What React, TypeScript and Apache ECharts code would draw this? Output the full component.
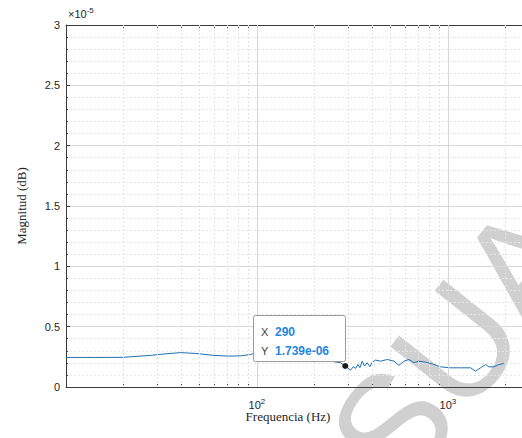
import React, { useEffect, useRef } from 'react';
import * as echarts from 'echarts';

// Frequency (Hz) and magnitude (in units of 1e-5)
const freqHz = [10, 14.3, 20, 27.8, 33.3, 39.9, 47.8, 59.3, 71.1, 82.2, 92.7, 101, 120, 150, 190, 230, 274, 290, 309, 320, 329, 338, 346, 356, 366, 378, 390, 402, 418, 444, 482, 522, 554, 588, 625, 664, 705, 764, 829, 916, 1033, 1165, 1315, 1396, 1483, 1576, 1640, 1741, 1849, 1964];
const magnitudeE5 = [0.245, 0.245, 0.246, 0.262, 0.275, 0.285, 0.278, 0.262, 0.256, 0.258, 0.27, 0.285, 0.28, 0.26, 0.24, 0.22, 0.201, 0.1739, 0.14, 0.168, 0.154, 0.187, 0.16, 0.214, 0.173, 0.201, 0.168, 0.206, 0.223, 0.214, 0.228, 0.214, 0.179, 0.214, 0.228, 0.201, 0.214, 0.206, 0.192, 0.167, 0.159, 0.159, 0.159, 0.131, 0.159, 0.186, 0.167, 0.167, 0.186, 0.195];

const xMajorValues = [100, 1000];
const xMajorExponents = ['2', '3'];
const xMinorValues = [20, 30, 40, 50, 60, 70, 80, 90, 200, 300, 400, 500, 600, 700, 800, 900, 2000, 3000];
const yTickStep = 0.5;
const yMax = 3;
const datatipPoint = [290, 0.1739];
const datatipX = '290';
const datatipY = '1.739e-06';

const AXIS = '#3c3c3c';
const SANS = '"Liberation Sans", Arial, Helvetica, sans-serif';
const SERIF = '"Liberation Serif", "DejaVu Serif", serif';

export default function App() {
  const ref = useRef<HTMLDivElement>(null);
  useEffect(() => {
    if (!ref.current) return;
    const chart = echarts.init(ref.current, null, { renderer: 'svg' });
    const lineData = freqHz.map((f, i) => [f, magnitudeE5[i]]);
    const gridMarks = [
      ...xMinorValues.map((v) => ({ xAxis: v, lineStyle: { color: '#e2e2e2', type: [2, 2], width: 1 } })),
      ...xMajorValues.map((v) => ({ xAxis: v, lineStyle: { color: '#d6d6d6', type: 'solid', width: 1 } })),
    ];
    chart.setOption({
      animation: false,
      grid: { left: 66, top: 25, width: 473, height: 362, containLabel: false, outerBoundsMode: 'none' },
      xAxis: [
        {
          type: 'log',
          logBase: 10,
          min: 10,
          max: 3000,
          position: 'bottom',
          axisLine: { show: true, lineStyle: { color: AXIS, width: 1 } },
          axisTick: { show: true, inside: true, length: 3, lineStyle: { color: AXIS }, customValues: [...xMinorValues, ...xMajorValues] },
          splitLine: { show: false },
          axisLabel: {
            margin: 10,
            color: '#262626',
            customValues: xMajorValues,
            formatter: (v: number) => {
              const i = xMajorValues.indexOf(Math.round(v));
              return i >= 0 ? `{b|10}{s|${xMajorExponents[i]}}` : '';
            },
            rich: {
              b: { fontSize: 11, fontFamily: SANS, color: '#262626' },
              s: { fontSize: 8, fontFamily: SANS, color: '#262626', padding: [0, 0, 8, 0] },
            },
          },
        },
        {
          type: 'log',
          logBase: 10,
          min: 10,
          max: 3000,
          position: 'top',
          axisLine: { show: true, lineStyle: { color: AXIS, width: 1 } },
          axisTick: { show: true, inside: true, length: 3, lineStyle: { color: AXIS }, customValues: [...xMinorValues, ...xMajorValues] },
          splitLine: { show: false },
          axisLabel: { show: false },
        },
      ],
      yAxis: {
        type: 'value',
        min: 0,
        max: yMax,
        interval: yTickStep,
        axisLine: { show: true, lineStyle: { color: AXIS, width: 1 } },
        axisTick: { show: true, inside: true, length: 4, lineStyle: { color: AXIS } },
        minorTick: { show: true, splitNumber: 5, length: 2, lineStyle: { color: AXIS } },
        splitLine: { show: true, lineStyle: { color: '#d8d8d8', width: 1 } },
        minorSplitLine: { show: true, lineStyle: { color: '#e6e6e6', type: [2, 2], width: 1 } },
        axisLabel: {
          margin: 6,
          color: '#262626',
          fontSize: 11,
          fontFamily: SANS,
          formatter: (v: number) => String(Math.round(v * 10) / 10),
        },
      },
      series: [
        {
          type: 'line',
          name: 'grid',
          data: [],
          z: 1,
          silent: true,
          markLine: { silent: true, symbol: ['none', 'none'], label: { show: false }, data: gridMarks, animation: false },
        },
        {
          type: 'line',
          name: 'magnitude',
          data: lineData,
          z: 3,
          showSymbol: false,
          symbol: 'none',
          lineStyle: { color: '#1f6fb0', width: 1 },
          markPoint: {
            symbol: 'circle',
            symbolSize: 6,
            itemStyle: { color: '#1a1a1a' },
            label: { show: false },
            data: [{ coord: datatipPoint }],
          },
        },
      ],
      graphic: [
        {
          type: 'text',
          x: 457,
          y: 345,
          rotation: 0.9,
          silent: true,
          style: { text: 'SUA', font: `150px ${SANS}`, fill: 'rgba(200,200,200,0.85)', align: 'center', verticalAlign: 'middle' },
        },
        {
          type: 'text',
          left: 68,
          top: 6,
          style: {
            text: '{a|×10}{b|-5}',
            rich: {
              a: { fontSize: 11, fontFamily: SANS, fill: '#262626' },
              b: { fontSize: 8, fontFamily: SANS, fill: '#262626', padding: [0, 0, 8, 0] },
            },
          },
        },
        {
          type: 'text',
          x: 21,
          y: 206,
          rotation: Math.PI / 2,
          style: { text: 'Magnitud (dB)', font: `13px ${SERIF}`, fill: '#262626', align: 'center', verticalAlign: 'middle' },
        },
        {
          type: 'text',
          x: 288,
          y: 416,
          style: { text: 'Frequencia (Hz)', font: `13px ${SERIF}`, fill: '#262626', align: 'center', verticalAlign: 'middle' },
        },
        {
          type: 'rect',
          z: 50,
          shape: { x: 253.5, y: 315.5, width: 92, height: 46, r: 2 },
          style: { fill: '#ffffff', stroke: '#9a9a9a', lineWidth: 1 },
        },
        {
          type: 'text',
          z: 51,
          x: 261,
          y: 332,
          style: { text: 'X', font: `11px ${SANS}`, fill: '#404040', verticalAlign: 'middle' },
        },
        {
          type: 'text',
          z: 51,
          x: 275,
          y: 332,
          style: { text: datatipX, font: `bold 12px ${SANS}`, fill: '#1f86e0', verticalAlign: 'middle' },
        },
        {
          type: 'text',
          z: 51,
          x: 261,
          y: 351,
          style: { text: 'Y', font: `11px ${SANS}`, fill: '#404040', verticalAlign: 'middle' },
        },
        {
          type: 'text',
          z: 51,
          x: 275,
          y: 351,
          style: { text: datatipY, font: `bold 12px ${SANS}`, fill: '#1f86e0', verticalAlign: 'middle' },
        },
      ],
    });
    return () => chart.dispose();
  }, []);
  return <div ref={ref} style={{ position: 'absolute', left: 0, top: 0, width: 522, height: 438 }} />;
}
